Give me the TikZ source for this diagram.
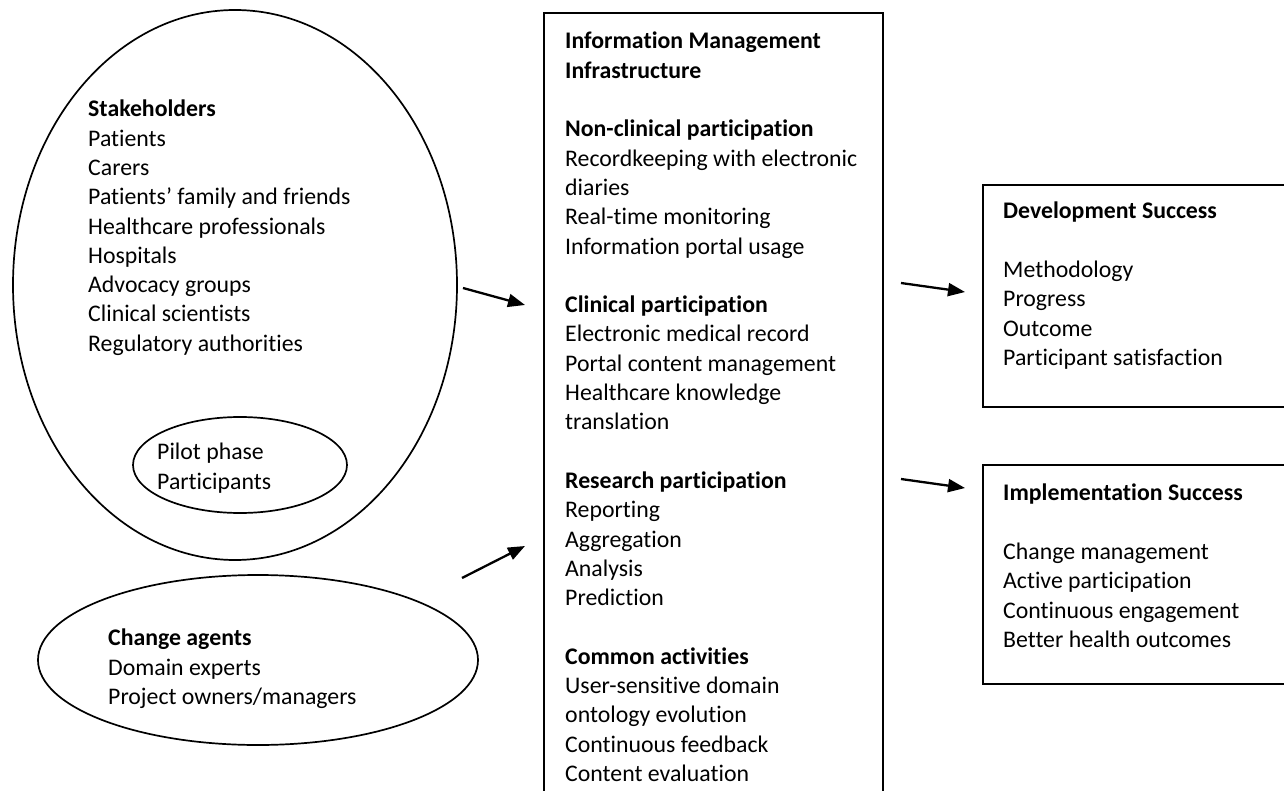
\documentclass[tikz,border=0pt]{standalone}
\usepackage{fontspec}
\setmainfont{Carlito}[Ligatures=NoCommon]
\usetikzlibrary{shapes.geometric,arrows.meta}
\begin{document}
\begin{tikzpicture}[x=1pt,y=-1pt,
  txt/.style={anchor=north west, inner sep=0pt, align=left, font=\fontsize{23.8}{29.3}\selectfont},
  oval/.style={draw, ellipse, line width=1.7pt, inner sep=0pt},
  frame/.style={draw, line width=2pt, anchor=north west, inner sep=0pt},
  arr/.style={line width=2.3pt, -{Triangle[length=17pt,width=13pt]}}]
\useasboundingbox (0,0) rectangle (1284,791);
\begin{scope}
\clip (0,0) rectangle (1284,791);
% ovals
\node[oval, minimum width=444pt, minimum height=550pt] (stake) at (235,285) {};
\node[oval, minimum width=214pt, minimum height=96pt] (pilot) at (240,465) {};
\node[oval, minimum width=440pt, minimum height=170pt] (change) at (258,660) {};
% boxes
\node[frame, minimum width=339pt, minimum height=800pt] (infra) at (543,12) {};
\node[frame, minimum width=320pt, minimum height=222pt] (dev) at (982,184) {};
\node[frame, minimum width=320pt, minimum height=219pt] (impl) at (982,464) {};
\end{scope}
% texts
\node[txt] (staket) at (88,100) {\textbf{Stakeholders}\\Patients\\Carers\\Patients’ family and friends\\Healthcare professionals\\Hospitals\\Advocacy groups\\Clinical scientists\\Regulatory authorities};
\node[txt] (pilott) at (157,443) {Pilot phase\\Participants};
\node[txt] (changet) at (108,629) {\textbf{Change agents}\\Domain experts\\Project owners/managers};
\node[txt] (infrat) at (565,32) {\textbf{Information Management}\\\textbf{Infrastructure}\\[29.3pt]
\textbf{Non-clinical participation}\\Recordkeeping with electronic\\diaries\\Real-time monitoring\\Information portal usage\\[29.3pt]
\textbf{Clinical participation}\\Electronic medical record\\Portal content management\\Healthcare knowledge\\translation\\[29.3pt]
\textbf{Research participation}\\Reporting\\Aggregation\\Analysis\\Prediction\\[29.3pt]
\textbf{Common activities}\\User-sensitive domain\\ontology evolution\\Continuous feedback\\Content evaluation};
\node[txt] (devt) at (1003,202) {\textbf{Development Success}\\[29.3pt]Methodology\\Progress\\Outcome\\Participant satisfaction};
\node[txt] (implt) at (1003,484) {\textbf{Implementation Success}\\[29.3pt]Change management\\Active participation\\Continuous engagement\\Better health outcomes};
% arrows
\coordinate (a1s) at (463,288);
\coordinate (a1e) at (525,305);
\coordinate (a2s) at (462,578);
\coordinate (a2e) at (525,546);
\coordinate (a3s) at (901,283);
\coordinate (a3e) at (965,292);
\coordinate (a4s) at (901,479);
\coordinate (a4e) at (965,488);
\draw[arr] (a1s) -- (a1e);
\draw[arr] (a2s) -- (a2e);
\draw[arr] (a3s) -- (a3e);
\draw[arr] (a4s) -- (a4e);
\end{tikzpicture}
\end{document}
